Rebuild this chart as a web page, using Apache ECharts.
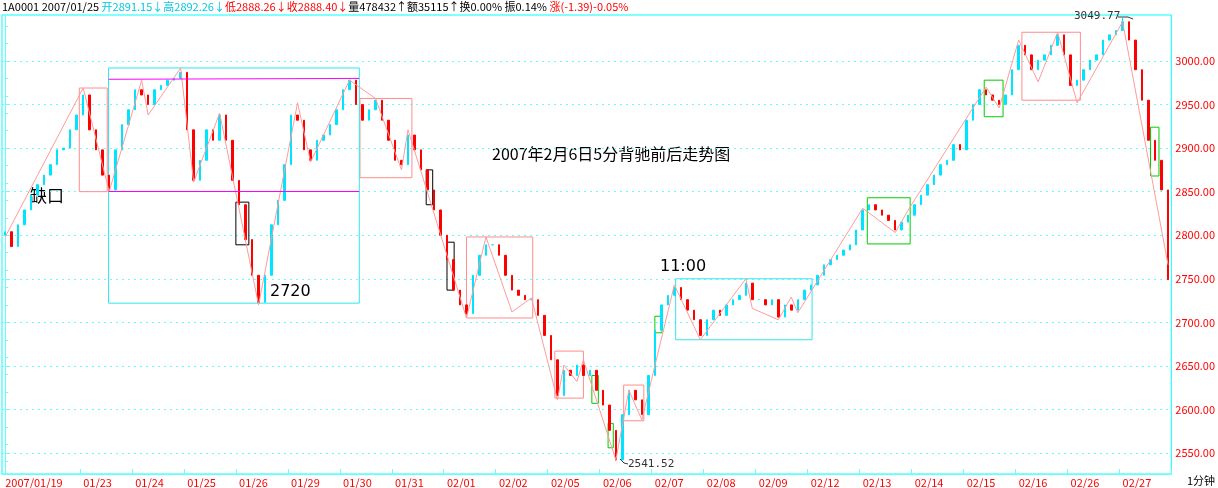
<![CDATA[<!DOCTYPE html>
<html><head><meta charset="utf-8">
<script src="https://cdn.jsdelivr.net/npm/echarts@6/dist/echarts.min.js"></script>
<style>html,body{margin:0;padding:0;background:#fff}#c{width:1218px;height:488px}</style>
</head><body><div id="c"></div>
<script>
var closes = [
2804,2787,2812,2829,2846,2858,2869,2881,2898,2900,2921,2938,
2961,2921,2898,2869,2852,2898,2927,2944,
2967,2961,2950,2967,2972,2978,2980,2987,
2921,2863,2886,2921,2909,2938,2909,2863,
2835,2795,2754,2723,2754,2812,2840,2881,
2938,2932,2898,2886,2909,2915,2927,2944,
2967,2978,2950,2932,2944,2955,2932,2909,
2886,2881,2915,2898,2875,2852,2829,2800,
2772,2737,2720,2710,2754,2777,2789,2789,
2777,2754,2737,2731,2726,2726,2708,2685,
2657,2616,2645,2639,2651,2639,2645,2622,
2605,2576,2542,2594,2622,2611,2594,2639,
2691,2720,2731,2740,2726,2714,2703,2685,
2703,2714,2708,2720,2726,2731,2745,2726,
2726,2720,2726,2706,2720,2714,2726,2737,
2743,2754,2766,2772,2777,2783,2789,2806,
2829,2835,2829,2823,2817,2806,2815,2823,
2835,2846,2858,2869,2881,2886,2904,2898,
2932,2950,2967,2961,2955,2950,2961,2990,
3018,3007,2990,3001,3007,3018,3030,3007,
2972,2978,2990,3001,3007,3024,3030,3035,
3045,3024,2990,2955,2909,2886,2852,2749
];
var startOpen = 2800;
var dayLabels = ['2007/01/19','01/23','01/24','01/25','01/26','01/29','01/30','01/31','02/01','02/02','02/05','02/06','02/07','02/08','02/09','02/12','02/13','02/14','02/15','02/16','02/26','02/27'];
var dayStarts = [0,12,20,28,36,44,52,60,68,76,84,92,100,108,116,124,132,140,148,156,164,172];
var zigzag = [[0,2798],[12,2969],[16,2850],[21,2978],[22,2938],[27,2992],[29,2861],[33,2940],[39,2720],[45,2952],[47,2884],[53,2978],[57,2957],[61,2875],[62,2921],[71,2705],[74,2798],[78,2712],[81,2728],[85,2611],[86,2651],[88,2632],[89,2657],[94,2542],[96,2622],[98,2588],[103,2743],[107,2680],[114,2750],[115,2716],[119,2703],[121,2729],[122,2711],[132,2831],[137,2803],[139,2829],[151,2970],[153,2946],[156,3024],[159,2976],[162,3033],[165,2952],[172,3045],[179,2766]];
var pinkBoxes = [[11.4,2969,15.7,2850],[54.6,2957,62.6,2866],[71,2798,81.2,2705],[84.6,2667,89,2613],[95.2,2628,98.3,2587],[156.5,3033,165.5,2955]];
var cyanBoxes = [[15.9,2992,54.5,2722],[103.2,2750,124.2,2680]];
var blackBoxes = [[35.5,2838,37.5,2789],[64.8,2875,65.8,2835],[68,2792,69.1,2737]];
var greenBoxes = [[100,2707,101.1,2688],[90.3,2639,91.3,2607],[92.8,2584,93.6,2556],[132.7,2843,139.3,2790],[150.7,2978,153.6,2936],[176.3,2924,177.6,2868]];
var magentaLines = [[[15.9,2979],[54.5,2980]],[[15.9,2850],[54.5,2850]]];
var yTicks = [2550,2600,2650,2700,2750,2800,2850,2900,2950,3000];
var lowExtreme = 2541.52, highExtreme = 3049.77;

var cats = closes.map(function(_,i){return i;});
var candles = closes.map(function(c,i){
  var o = i===0?startOpen:closes[i-1];
  var lo = Math.min(o,c), hi = Math.max(o,c);
  if (c===2542) lo = lowExtreme;
  if (c===3045) hi = highExtreme;
  return [o,c,lo,hi];
});
function areas(list){return list.map(function(b){return [{coord:[b[0],b[1]]},{coord:[b[2],b[3]]}];});}
function boxSeries(list,color){return {type:'line',xAxisIndex:1,data:[],silent:true,
  markArea:{silent:true,itemStyle:{color:'rgba(0,0,0,0)',borderColor:color,borderWidth:1},data:areas(list)}};}

var chart = echarts.init(document.getElementById('c'));
chart.setOption({
  animation:false,
  grid:{left:2,right:35,top:15,bottom:14,show:true,borderColor:'#00ffff',borderWidth:1},
  xAxis:[{type:'category',data:cats,boundaryGap:true,
    axisLine:{lineStyle:{color:'#66ffff'}},
    axisTick:{show:true,length:-5,interval:function(i){return dayStarts.indexOf(i)>=0;},lineStyle:{color:'#66ffff'}},
    axisLabel:{interval:function(i){return dayStarts.indexOf(i)>=0;},align:'left',color:'#ff0000',fontSize:11,margin:3,
      fontFamily:'Noto Sans CJK SC',formatter:function(v){var k=dayStarts.indexOf(+v);return k>=0?dayLabels[k]:'';}},
    splitLine:{show:false}},
   {type:'value',min:-0.5,max:179.5,show:false}],
  yAxis:{type:'value',position:'right',min:2525.9,max:3052.8,
    axisLine:{show:true,lineStyle:{color:'#66ffff'}},
    axisTick:{show:true,customValues:yTicks,length:4,lineStyle:{color:'#66ffff'}},
    minorTick:{show:true,splitNumber:5,length:3,lineStyle:{color:'#66ffff'}},
    axisLabel:{customValues:yTicks,color:'#ff0000',fontSize:11,margin:4,fontFamily:'Noto Sans CJK SC',
      formatter:function(v){return v.toFixed(2);}},
    splitLine:{show:true,lineStyle:{color:'#66ffff',type:[2,4]}}},
  series:[
    {type:'candlestick',data:candles,barWidth:2,
      itemStyle:{color:'#00e5ff',color0:'#ff0000',borderColor:'#00e5ff',borderColor0:'#ff0000',borderWidth:1}},
    {type:'line',xAxisIndex:1,data:zigzag,symbol:'none',lineStyle:{color:'#ff9a9a',width:1},silent:true,
      markLine:{silent:true,symbol:'none',label:{show:false},lineStyle:{color:'#ff00ff',width:1,type:'solid'},
        data:magentaLines.map(function(l){return [{coord:l[0]},{coord:l[1]}];})}},
    boxSeries(pinkBoxes,'#ff8c8c'),
    boxSeries(cyanBoxes,'#33e5f0'),
    boxSeries(blackBoxes,'#000000'),
    boxSeries(greenBoxes,'#00cc00')
  ],
  graphic:[
    {type:'text',left:2,top:1,style:{text:'{k|1A0001 2007/01/25 }{c|开2891.15↓高2892.26↓}{r|低2888.26↓收2888.40↓}{k|量478432↑额35115↑换0.00% 振0.14% }{r|涨(-1.39)-0.05%}',
      rich:{k:{fill:'#000',fontSize:11,fontFamily:'Noto Sans CJK SC'},c:{fill:'#00c8e0',fontSize:11,fontFamily:'Noto Sans CJK SC'},r:{fill:'#ff0000',fontSize:11,fontFamily:'Noto Sans CJK SC'}}}},
    {type:'text',left:492,top:146,style:{text:'2007年2月6日5分背驰前后走势图',fill:'#000',fontSize:16,fontFamily:'Noto Sans CJK SC'}},
    {type:'text',left:30,top:187,style:{text:'缺口',fill:'#000',fontSize:17,fontFamily:'Noto Sans CJK SC'}},
    {type:'text',left:270,top:284,style:{text:'2720',fill:'#000',fontSize:16,fontFamily:'DejaVu Sans'}},
    {type:'text',left:660,top:259,style:{text:'11:00',fill:'#000',fontSize:16,fontFamily:'DejaVu Sans'}},
    {type:'text',left:628,top:459,style:{text:'2541.52',fill:'#333',fontSize:11,fontFamily:'DejaVu Sans Mono'}},
    {type:'polyline',shape:{points:[[620,459],[624,463],[628,464]]},style:{stroke:'#333',lineWidth:1}},
    {type:'text',left:1074,top:11,style:{text:'3049.77',fill:'#333',fontSize:11,fontFamily:'DejaVu Sans Mono'}},
    {type:'polyline',shape:{points:[[1118,17],[1128,17],[1133,19]]},style:{stroke:'#333',lineWidth:1}},
    {type:'text',left:1187,top:475,style:{text:'1分钟',fill:'#000',fontSize:11,fontFamily:'Noto Sans CJK SC'}}
  ]
});
</script></body></html>]]>
